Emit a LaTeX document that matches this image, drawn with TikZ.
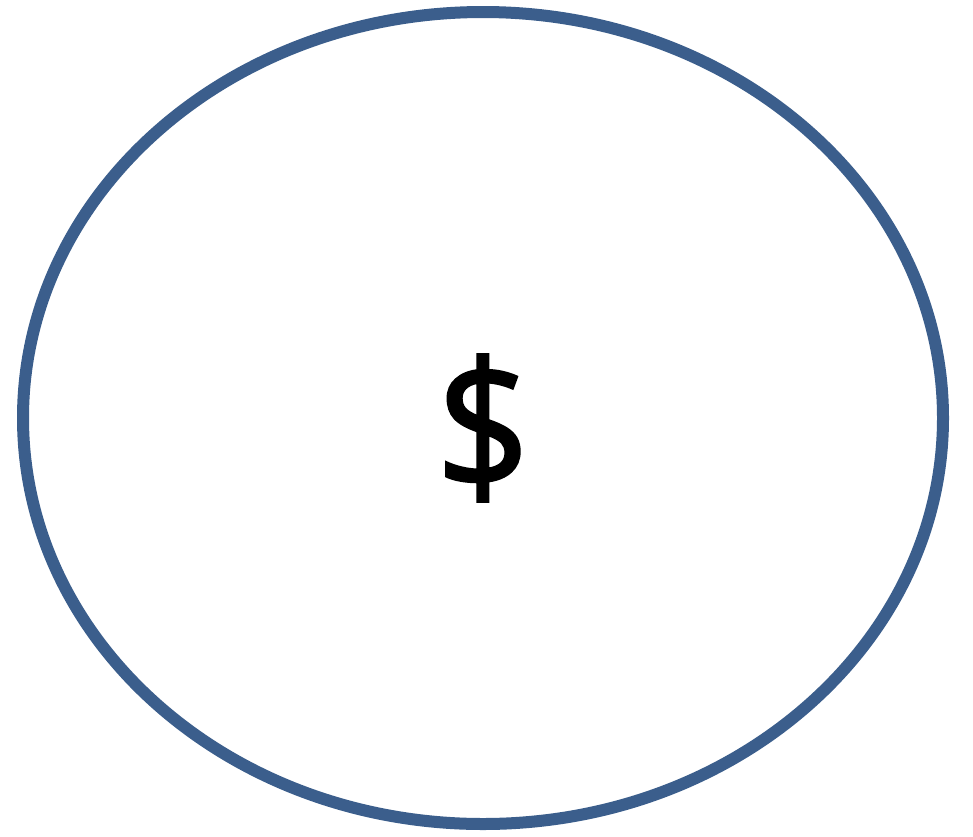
\documentclass[tikz,border=0pt]{standalone}
\usepackage{fontspec}
\usetikzlibrary{shapes.geometric}
\setmainfont{Open Sans}
\newfontfamily\dollarfont[FakeBold=1.5]{Open Sans}
\definecolor{ringblue}{RGB}{59,94,140}
\tikzset{ring/.style={draw=ringblue,line width=12pt,fill=white}}
\begin{document}
\begin{tikzpicture}[x=1pt,y=-1pt]
\useasboundingbox (0,0) rectangle (973,836);
\node[ring,ellipse,minimum width=920pt,minimum height=812pt,inner sep=0pt] (oval) at (483,418) {};
\node[font=\dollarfont\fontsize{180}{180}\selectfont,inner sep=0pt,xscale=0.92] (dollar) at (483,428) {\$};
\end{tikzpicture}
\end{document}
